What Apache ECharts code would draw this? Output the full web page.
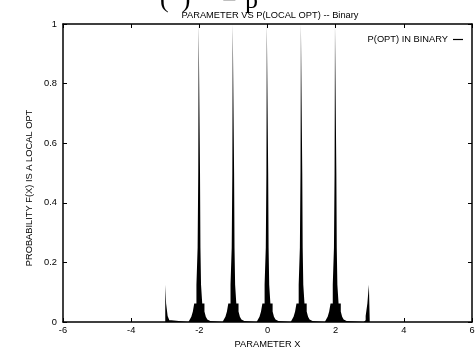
<!DOCTYPE html>
<html>
<head>
<meta charset="utf-8">
<script src="https://cdn.jsdelivr.net/npm/echarts@6/dist/echarts.min.js"></script>
<style>
  html, body { margin: 0; padding: 0; background: #fff; }
  #chart { width: 475px; height: 347px; }
</style>
</head>
<body>
<div id="chart"></div>
<script>
// peaks of the probability curve, one per integer x
const peakCenters = [-3, -2, -1, 0, 1, 2, 3];
// nested half widths of the stepped envelope around an inner peak, and the level inside each
const innerOffsets = [0.02, 0.032, 0.05, 0.085, 0.15, 0.19, 0.235, 0.28, 0.32];
const innerLevels  = [1, 0.5, 0.25, 0.125, 0.0625, 0.035, 0.018, 0.008, 0.003];
// the two end peaks (x = -3 and x = 3) only spread inward
const edgeOffsets = [0.025, 0.07, 0.12, 0.18];
const edgeLevels  = [0.125, 0.0625, 0.02, 0.006];

const xTickMin = -6, xTickMax = 6, xTickStep = 2;
const yTickMin = 0, yTickMax = 1, yTickStep = 0.2;

const seriesName = 'P(OPT) IN BINARY';

// outline of the filled curve, built from the envelope tables
const points = [];
peakCenters.forEach((c, k) => {
  const first = k === 0;
  const last = k === peakCenters.length - 1;
  const offs = (first || last) ? edgeOffsets : innerOffsets;
  const lv = (first || last) ? edgeLevels : innerLevels;
  const n = offs.length;
  const lvl = i => (i < n ? lv[i] : 0);
  if (!first) {
    for (let i = n - 1; i >= 0; i--) {
      points.push([c - offs[i], lvl(i + 1)], [c - offs[i], lvl(i)]);
    }
  } else {
    points.push([c, 0], [c, lv[0]]);
  }
  if (!last) {
    for (let i = 0; i < n; i++) {
      points.push([c + offs[i], lvl(i)], [c + offs[i], lvl(i + 1)]);
    }
  } else {
    points.push([c, lv[0]], [c, 0]);
  }
});

const chart = echarts.init(document.getElementById('chart'));
const font = 'Liberation Sans, Arial, sans-serif';
const fs = 9.3;

const axisCommon = {
  axisLine: { show: true, onZero: false, lineStyle: { color: '#000', width: 1.5 } },
  axisTick: { show: true, inside: true, length: 4, lineStyle: { color: '#000', width: 1 } },
  splitLine: { show: false }
};

const option = {
  animation: false,
  backgroundColor: '#fff',
  textStyle: { fontFamily: font },
  title: {
    text: 'PARAMETER VS P(LOCAL OPT) -- Binary',
    left: 265,
    top: 6,
    textAlign: 'center',
    textStyle: { fontSize: fs, fontWeight: 'normal', color: '#000', fontFamily: font }
  },
  legend: {
    data: [seriesName],
    right: 12,
    top: 35,
    padding: 0,
    align: 'right',
    itemWidth: 10,
    itemHeight: 1.2,
    icon: 'rect',
    itemStyle: { color: '#000', opacity: 1 },
    textStyle: { fontSize: fs, color: '#000', fontFamily: font }
  },
  grid: { left: 63, right: 3, top: 24, bottom: 25, outerBoundsMode: 'none' },
  xAxis: [
    Object.assign({}, axisCommon, {
      type: 'value', position: 'bottom',
      min: xTickMin, max: xTickMax, interval: xTickStep,
      name: 'PARAMETER X', nameLocation: 'middle', nameGap: 16,
      nameTextStyle: { fontSize: fs, color: '#000', fontFamily: font },
      axisLabel: { fontSize: fs, color: '#000', margin: 4 }
    }),
    Object.assign({}, axisCommon, {
      type: 'value', position: 'top',
      min: xTickMin, max: xTickMax, interval: xTickStep,
      axisLabel: { show: false }
    })
  ],
  yAxis: [
    Object.assign({}, axisCommon, {
      type: 'value', position: 'left',
      min: yTickMin, max: yTickMax, interval: yTickStep,
      axisLabel: { fontSize: fs, color: '#000', margin: 6 }
    }),
    Object.assign({}, axisCommon, {
      type: 'value', position: 'right',
      min: yTickMin, max: yTickMax, interval: yTickStep,
      axisLabel: { show: false }
    })
  ],
  graphic: [
    {
      type: 'text', x: 29, y: 188, rotation: Math.PI / 2,
      style: { text: 'PROBABILITY F(X) IS A LOCAL OPT', fontSize: fs, fill: '#000', fontFamily: font,
               align: 'center', verticalAlign: 'middle' }
    },
    {
      type: 'text', x: 160, y: 0,
      style: { text: '(  )', fontSize: 26, fill: '#000', fontFamily: 'Liberation Serif, serif', verticalAlign: 'middle' }
    },
    {
      type: 'text', x: 222, y: -1,
      style: { text: '=', fontSize: 26, fill: '#000', fontFamily: 'Liberation Serif, serif', verticalAlign: 'middle' }
    },
    {
      type: 'text', x: 245, y: 1,
      style: { text: 'p', fontSize: 26, fill: '#000', fontFamily: 'Liberation Serif, serif', verticalAlign: 'middle' }
    }
  ],
  series: [{
    name: seriesName,
    type: 'line',
    xAxisIndex: 0,
    yAxisIndex: 0,
    data: points,
    symbol: 'none',
    lineStyle: { color: '#000', width: 0 },
    itemStyle: { color: '#000' },
    areaStyle: { color: '#000', opacity: 1 }
  }]
};

chart.setOption(option);
</script>
</body>
</html>
